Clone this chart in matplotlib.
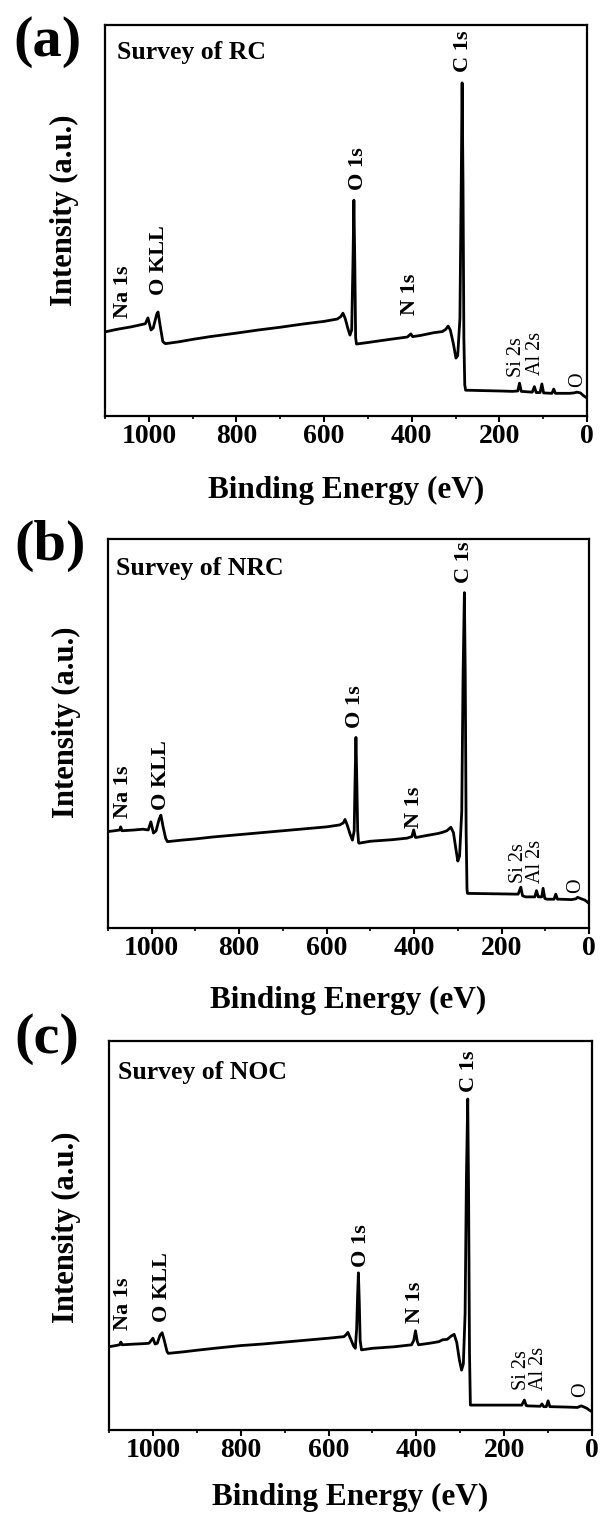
import matplotlib
matplotlib.use("Agg")
import matplotlib.pyplot as plt
from matplotlib.ticker import MultipleLocator

# ---------------- data ----------------
# Panel (a) Survey of RC
energy_rc = [1100, 1080, 1066, 1040, 1020, 1008, 1002, 995, 990, 982, 979, 974, 968, 962,
             930, 900, 860, 800, 750, 700, 650, 600, 570, 562, 557, 552, 546, 541, 537,
             534, 532, 530, 528, 526, 500, 450, 410, 402, 398, 380, 350, 330, 322, 317,
             312, 305, 299, 295, 290, 287, 285, 283, 281, 279, 277, 240, 200, 170, 158,
             154, 150, 125, 120, 116, 107, 103, 99, 80, 76, 72, 40, 30, 23, 15, 8, 0]
inten_rc = [21.5, 22.0, 22.3, 22.8, 23.3, 23.6, 25.1, 22.0, 22.5, 26.0, 26.6, 23.0, 19.0, 18.5,
            19.0, 19.6, 20.3, 21.2, 22.0, 22.7, 23.5, 24.2, 24.8, 25.4, 26.3, 25.0, 22.5, 20.7, 22.0,
            40.0, 55.2, 40.0, 20.0, 18.4, 18.8, 19.6, 20.2, 21.0, 20.3, 20.6, 21.3, 21.6, 22.2, 23.0,
            22.0, 18.5, 14.8, 15.5, 25.0, 60.0, 85.2, 60.0, 20.0, 8.0, 6.6, 6.5, 6.4, 6.3, 6.4,
            8.4, 6.3, 6.1, 7.5, 6.0, 6.0, 8.2, 5.9, 5.8, 6.9, 5.8, 5.8, 5.9, 6.1, 5.9, 5.2, 4.6]

# Panel (b) Survey of NRC
energy_nrc = [1100, 1085, 1073, 1071, 1068, 1040, 1020, 1008, 1002, 996, 990, 983, 979, 974,
              968, 964, 930, 900, 860, 800, 750, 700, 650, 600, 570, 562, 558, 553, 546, 541,
              537, 535, 533, 531, 529, 527, 526, 500, 450, 416, 405, 401, 397, 394, 370, 345,
              335, 325, 316, 310, 304, 300, 296, 291, 288, 285, 283, 281, 279, 278, 220, 162,
              156, 152, 145, 124, 120, 116, 114, 108, 105, 101, 96, 80, 76, 72, 66, 40, 30,
              26, 20, 10, 5, 0]
inten_nrc = [24.8, 25.0, 25.2, 26.0, 25.0, 25.2, 25.4, 25.2, 27.3, 24.4, 25.0, 28.0, 29.0, 26.0,
             23.0, 22.2, 22.6, 22.9, 23.4, 24.0, 24.5, 25.0, 25.5, 26.0, 26.5, 27.0, 27.9, 26.5, 24.0, 22.6,
             25.0, 38.0, 49.0, 38.0, 25.0, 22.0, 21.8, 22.3, 22.7, 23.1, 23.5, 25.2, 23.3, 23.3, 23.8, 24.3,
             24.6, 25.0, 25.9, 24.5, 20.0, 17.2, 18.5, 30.0, 65.0, 86.2, 65.0, 25.0, 10.0, 8.9, 8.8, 8.7,
             10.5, 8.3, 8.0, 8.0, 9.6, 8.0, 8.0, 8.0, 10.2, 7.6, 7.4, 7.4, 8.7, 7.4, 7.4, 7.3, 7.5,
             7.9, 7.6, 7.2, 6.8, 6.3]

# Panel (c) Survey of NOC
energy_noc = [1100, 1085, 1076, 1073, 1070, 1040, 1020, 1009, 1004, 1000, 995, 990, 984, 979,
              974, 968, 965, 930, 900, 860, 800, 750, 700, 650, 600, 565, 560, 556, 550, 543,
              539, 536, 534, 532, 530, 528, 525, 500, 450, 411, 406, 402, 398, 395, 370, 349,
              340, 330, 320, 314, 308, 302, 297, 293, 289, 286, 283, 281, 279, 277, 220, 160,
              154, 150, 147, 118, 114, 110, 104, 100, 96, 94, 60, 33, 27, 24, 20, 12, 6, 0]
inten_noc = [21.4, 21.7, 21.9, 22.6, 21.9, 22.1, 22.2, 22.3, 23.0, 23.6, 22.1, 22.3, 24.3, 25.0,
             23.0, 20.2, 19.7, 20.1, 20.5, 21.0, 21.7, 22.1, 22.6, 23.1, 23.6, 24.0, 24.5, 25.1, 23.5, 21.6,
             21.0, 26.0, 34.0, 40.4, 33.0, 23.0, 20.6, 21.0, 21.4, 21.9, 23.0, 25.5, 22.8, 21.9, 22.3, 22.7,
             23.2, 23.3, 24.2, 24.6, 22.5, 18.0, 15.4, 17.0, 30.0, 65.0, 85.1, 60.0, 20.0, 6.4, 6.4, 6.4,
             7.7, 6.3, 6.2, 6.1, 6.7, 6.0, 6.0, 7.5, 6.0, 6.0, 5.9, 5.8, 6.1, 6.2, 6.0, 5.6, 5.1, 4.7]

peak_names = ["Na 1s", "O KLL", "O 1s", "N 1s", "C 1s", "Si 2s", "Al 2s", "O"]
peak_bold = [True, True, True, True, True, False, False, False]
# label positions (energy, intensity at label start) per panel
lab_e_rc = [1060, 977, 523, 405, 283, 160, 117, 22]
lab_i_rc = [25.1, 30.9, 57.8, 25.8, 88.0, 10.0, 10.5, 7.4]
lab_e_nrc = [1065, 979, 535, 400, 285, 162, 123, 31]
lab_i_nrc = [28.3, 30.3, 51.4, 25.7, 88.7, 11.6, 11.6, 9.0]
lab_e_noc = [1069, 979, 525, 402, 281, 161, 121, 26]
lab_i_noc = [25.7, 27.8, 41.9, 27.5, 86.9, 10.3, 10.3, 8.5]

panel_letters = ["(a)", "(b)", "(c)"]
survey_titles = ["Survey of RC", "Survey of NRC", "Survey of NOC"]
xlabel_text = "Binding Energy (eV)"
ylabel_text = "Intensity (a.u.)"

# ---------------- figure ----------------
FONT = ["Liberation Serif", "DejaVu Serif"]
plt.rcParams["font.family"] = FONT

W, H = 603, 1521
fig = plt.figure(figsize=(W / 100, H / 100), dpi=100)

# axes boxes in pixels: left, top, right, bottom
boxes = [(105, 25, 587, 416), (108, 539, 589, 928), (109, 1041, 592, 1430)]
letter_pos = [(48, 42), (50, 546), (47, 1039)]
ylab_x = [64, 66, 66]
ylab_y = [210, 722, 1227]
xlab_y = [490, 1000, 1497]
title_pos = [(117, 52), (116, 568), (118, 1072)]

energies = [energy_rc, energy_nrc, energy_noc]
intens = [inten_rc, inten_nrc, inten_noc]
lab_es = [lab_e_rc, lab_e_nrc, lab_e_noc]
lab_is = [lab_i_rc, lab_i_nrc, lab_i_noc]

for k in range(3):
    l, t, r, b = boxes[k]
    ax = fig.add_axes([l / W, 1 - b / H, (r - l) / W, (b - t) / H])
    ax.plot(energies[k], intens[k], color="black", lw=2.0, solid_joinstyle="round")
    ax.set_xlim(1100, 0)
    ax.set_ylim(0, 100)
    ax.set_yticks([])
    ax.xaxis.set_major_locator(MultipleLocator(200))
    ax.xaxis.set_minor_locator(MultipleLocator(100))
    ax.tick_params(axis="x", which="major", direction="out", length=4, width=1.5,
                   pad=2, labelsize=20)
    ax.tick_params(axis="x", which="minor", direction="out", length=2.5, width=1.2)
    for lab in ax.get_xticklabels():
        lab.set_fontweight("bold")
    for sp in ax.spines.values():
        sp.set_linewidth(1.6)

    for name, bold, e, i in zip(peak_names, peak_bold, lab_es[k], lab_is[k]):
        ax.text(e, i, name, rotation=90, rotation_mode="anchor", ha="left", va="center",
                fontsize=16 if bold else 14.5, fontweight="bold" if bold else "normal")

    fig.text(title_pos[k][0] / W, 1 - title_pos[k][1] / H, survey_titles[k],
             ha="left", va="center", fontsize=18.5, fontweight="bold")
    fig.text(letter_pos[k][0] / W, 1 - letter_pos[k][1] / H, panel_letters[k],
             ha="center", va="center", fontsize=42, fontweight="bold")
    fig.text(ylab_x[k] / W, 1 - ylab_y[k] / H, ylabel_text, rotation=90,
             ha="center", va="center", fontsize=22, fontweight="bold")
    fig.text(((l + r) / 2) / W, 1 - xlab_y[k] / H, xlabel_text,
             ha="center", va="center", fontsize=22.5, fontweight="bold")

fig.savefig("out.png", dpi=100)
